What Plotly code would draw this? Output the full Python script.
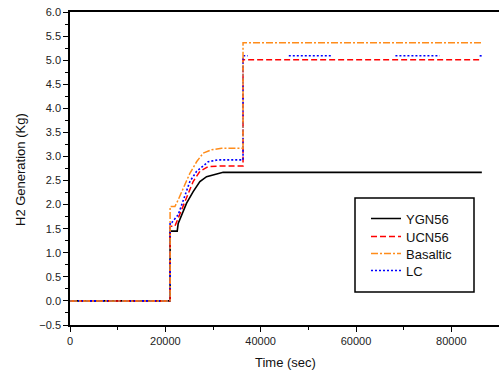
import plotly.graph_objects as go

# ---- data (time in sec, H2 in kg) ----
ygn56_t = [0, 21000, 21000, 22490, 22700, 23410, 24460, 25840, 27250, 28650, 30750, 32130, 86400]
ygn56_h = [0, 0, 1.45, 1.45, 1.61, 1.79, 2.03, 2.27, 2.48, 2.58, 2.63, 2.67, 2.67]

ucn56_t = [0, 21000, 21000, 22000, 23410, 24460, 25840, 27250, 28990, 31440, 36300, 36300, 86400]
ucn56_h = [0, 0, 1.55, 1.55, 1.89, 2.13, 2.48, 2.69, 2.79, 2.80, 2.80, 5.01, 5.01]

basaltic_t = [0, 21000, 21000, 22010, 22700, 23750, 25150, 26560, 27940, 29700, 31800, 36300, 36300, 86400]
basaltic_h = [0, 0, 1.96, 1.96, 2.10, 2.34, 2.65, 2.89, 3.07, 3.14, 3.17, 3.17, 5.36, 5.36]

lc_t = [0, 21000, 21000, 21380, 22700, 23750, 25150, 26560, 28300, 28990, 31080, 36300, 36300, 37300,
        None, 45900, 55120, None, 68270, 77550, None, 85940, 86400]
lc_h = [0, 0, 1.63, 1.63, 1.79, 2.10, 2.48, 2.69, 2.82, 2.89, 2.93, 2.93, 5.09, 5.09,
        None, 5.09, 5.09, None, 5.09, 5.09, None, 5.09, 5.09]

x_title = "Time (sec)"
y_title = "H2 Generation (Kg)"

FONT = "Arial, Liberation Sans, sans-serif"
L, T, W, H = 70, 12, 429, 313   # plot area in pixels


def py(ypix):
    return (T + H - ypix) / H


fig = go.Figure()
fig.add_trace(go.Scatter(x=ygn56_t, y=ygn56_h, mode="lines", name="YGN56", legend="legend",
                         line=dict(color="black", width=1.6)))
fig.add_trace(go.Scatter(x=ucn56_t, y=ucn56_h, mode="lines", name="UCN56", legend="legend2",
                         line=dict(color="#ff0000", width=1.5, dash="6px,3px")))
fig.add_trace(go.Scatter(x=lc_t, y=lc_h, mode="lines", name="LC", legend="legend4", connectgaps=False,
                         line=dict(color="#0000ff", width=1.6, dash="2px,2px")))
fig.add_trace(go.Scatter(x=basaltic_t, y=basaltic_h, mode="lines", name="Basaltic", legend="legend3",
                         line=dict(color="#ff8c1a", width=1.5, dash="7px,2px,2px,2px")))

leg_common = dict(xanchor="left", yanchor="middle", bgcolor="rgba(255,255,255,0)", borderwidth=0,
                  font=dict(family=FONT, size=13, color="#111"), x=(366 - L) / W)
centers = [218.5, 236.5, 253.5, 270.5]

fig.update_layout(
    width=499, height=372,
    margin=dict(l=L, r=499 - L - W, t=T, b=372 - T - H, autoexpand=False),
    paper_bgcolor="white", plot_bgcolor="white",
    font=dict(family=FONT, size=11, color="#222"),
    showlegend=True,
    legend=dict(y=py(centers[0]), **leg_common),
    legend2=dict(y=py(centers[1]), **leg_common),
    legend3=dict(y=py(centers[2]), **leg_common),
    legend4=dict(y=py(centers[3]), **leg_common),
    shapes=[dict(type="rect", xref="paper", yref="paper",
                 x0=(355 - L) / W, x1=(474 - L) / W,
                 y0=py(292), y1=py(198),
                 line=dict(color="black", width=1.5), fillcolor="rgba(0,0,0,0)", layer="below")],
    annotations=[
        dict(text=x_title, xref="paper", yref="paper", x=(285 - L) / W, y=py(362), showarrow=False,
             xanchor="center", yanchor="middle", font=dict(family=FONT, size=13, color="#111")),
        dict(text=y_title, xref="paper", yref="paper", x=(20 - L) / W, y=py(170), showarrow=False,
             textangle=-90, xanchor="center", yanchor="middle", font=dict(family=FONT, size=13, color="#111")),
    ],
)

fig.update_xaxes(range=[0, 90000], dtick=20000, tick0=0, tickformat="d", ticks="outside", ticklen=5,
                 tickwidth=1, tickcolor="black", showline=True, linecolor="black", linewidth=1.5, mirror=True,
                 showgrid=False, zeroline=False, automargin=False,
                 minor=dict(dtick=10000, ticks="outside", ticklen=3, tickcolor="black", showgrid=False),
                 tickfont=dict(family=FONT, size=11, color="#222"))
fig.update_yaxes(range=[-0.5, 6.0], dtick=0.5, tick0=0, tickformat=".1f", ticks="outside", ticklen=5,
                 tickwidth=1, tickcolor="black", showline=True, linecolor="black", linewidth=1.5,
                 mirror=False, showgrid=False, zeroline=False, automargin=False,
                 minor=dict(dtick=0.25, ticks="outside", ticklen=3, tickcolor="black", showgrid=False),
                 tickfont=dict(family=FONT, size=11, color="#222"))

fig.write_html("out.html", config={"displayModeBar": False},
               post_script="document.body.style.margin='0';document.body.style.overflow='hidden';")
